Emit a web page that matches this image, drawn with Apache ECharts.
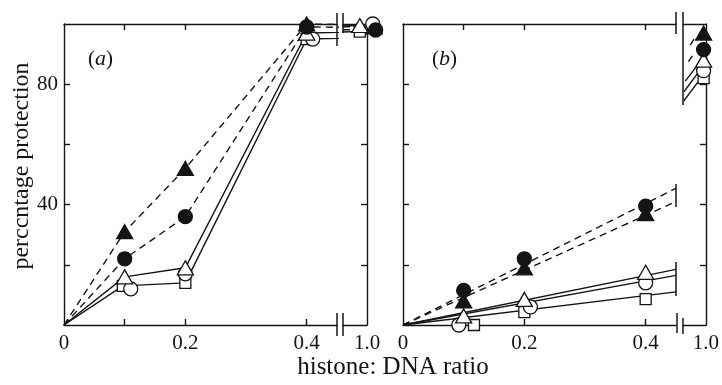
<!DOCTYPE html>
<html>
<head>
<meta charset="utf-8">
<script src="https://cdn.jsdelivr.net/npm/echarts@6/dist/echarts.min.js"></script>
<style>
  html, body { margin: 0; padding: 0; background: #fff; }
  #chart { width: 722px; height: 385px; }
</style>
</head>
<body>
<div id="chart"></div>
<script>
// panel (a): points at ratios 0, 0.1, 0.2, 0.4
const aX = [0, 0.1, 0.2, 0.4]
const aFilledTri = [0, 31, 52, 100]
const aFilledCircle = [0, 22, 36, 99]
const aOpenTri = [0, 16, 19, 97]
const aOpenSquareX = [0, 0.097, 0.2, 0.4]
const aOpenSquare = [0, 13, 14, 95]
const aOpenCircleX = [0.11, 0.2, 0.41]
const aOpenCircle = [12, 17, 95]
// panel (a) at ratio 1.0: filledTri, filledCircle, openTri, openSquare, openCircle
const aEndX = [1.015, 1.018, 0.985, 0.985, 1.012]
const aEndY = [99, 98, 99.5, 97.5, 100]

// panel (b)
const bX = [0.1, 0.2, 0.4]
const bFilledCircle = [11.5, 22, 39.5]
const bFilledTri = [8, 19, 37]
const bOpenTri = [3, 8.5, 17.5]
const bOpenCircleX = [0.092, 0.21, 0.4]
const bOpenCircle = [0, 6, 14]
const bOpenSquareX = [0.117, 0.2, 0.4]
const bOpenSquare = [0, 4.3, 8.6]
// fitted lines from the origin, value at the axis break (0.45)
const bFitEnd = 0.45
const bFitDashed = [45.4, 41]
const bFitSolid = [18.5, 16.5, 11]
// panel (b) at ratio 1.0: filledTri, filledCircle, openTri, openCircle, openSquare
const bEndX = 0.995
const bEndY = [97, 91.5, 88, 84.5, 82]
// short strokes running into the 1.0 points
const bStubSolid = [[[0.952, 74.5], [0.984, 81]], [[0.952, 77.5], [0.984, 84]], [[0.955, 81], [0.98, 86]]]
const bStubDashed = [[[0.962, 87.5], [0.975, 90.5]], [[0.966, 93], [0.976, 95.5]]]

const xTicks = [0.1, 0.2, 0.4]
const xLabels = [0, 0.2, 0.4]
const yTicks = [20, 40, 60, 80]
const yLabels = [40, 80]

const ink = '#141414'
const font = 'Liberation Serif'

const zip = (xs, ys) => xs.map((x, i) => [x, ys[i]])

const mainX = (gridIndex, position, labels) => ({
  type: 'value', gridIndex, position, min: 0, max: 0.45,
  axisLine: { show: true, lineStyle: { color: ink, width: 1.4 } },
  axisTick: { show: true, inside: true, length: 6, customValues: xTicks, lineStyle: { color: ink, width: 1.4 } },
  axisLabel: labels ? {
    show: true, customValues: xLabels, margin: 8, color: ink, fontFamily: font, fontSize: 21,
    formatter: v => (v === 0 ? '0' : String(v)),
  } : { show: false },
  splitLine: { show: false },
})

const sideX = (gridIndex, position, labels) => ({
  type: 'value', gridIndex, position, min: 0.95, max: 1.0,
  axisLine: { show: true, lineStyle: { color: ink, width: 1.4 } },
  axisTick: { show: false },
  axisLabel: labels ? {
    show: true, customValues: [1.0], margin: 8, color: ink, fontFamily: font, fontSize: 21,
    formatter: v => v.toFixed(1),
  } : { show: false },
  splitLine: { show: false },
})

const yAx = (gridIndex, position, labels) => ({
  type: 'value', gridIndex, position, min: 0, max: 100,
  axisLine: { show: true, lineStyle: { color: ink, width: 1.4 } },
  axisTick: { show: true, inside: true, length: 6, customValues: yTicks, lineStyle: { color: ink, width: 1.4 } },
  axisLabel: labels ? { show: true, customValues: yLabels, margin: 6, color: ink, fontFamily: font, fontSize: 21 } : { show: false },
  splitLine: { show: false },
})

const line = (xi, yi, data, dashed, clip = true) => ({
  type: 'line', xAxisIndex: xi, yAxisIndex: yi, data, clip,
  showSymbol: false, symbol: 'none', silent: true, z: 2,
  lineStyle: { color: ink, width: 1.4, type: dashed ? [7, 5] : 'solid' },
})

const pts = (xi, yi, data, shape, filled, z = 5) => {
  const size = shape === 'triangle' ? [16, 14] : shape === 'rect' ? 11 : 14
  return {
    type: 'scatter', xAxisIndex: xi, yAxisIndex: yi, data, clip: false, z,
    symbol: shape, symbolSize: size,
    itemStyle: { color: filled ? ink : '#fff', borderColor: ink, borderWidth: 1.3, opacity: 1 },
  }
}

// panel (a) series
const aLines = [
  { x: aX, y: aFilledTri, end: 0, dashed: true },
  { x: aX, y: aFilledCircle, end: 1, dashed: true },
  { x: aX, y: aOpenTri, end: 2, dashed: false },
  { x: aOpenSquareX, y: aOpenSquare, end: 3, dashed: false },
]
const aSeries = []
aLines.forEach(s => {
  const main = zip(s.x, s.y)
  const endPt = [aEndX[s.end], aEndY[s.end]]
  aSeries.push(line(0, 0, main.concat([endPt]), s.dashed))
  aSeries.push(line(2, 1, [main[main.length - 1], endPt], s.dashed))
})
aSeries.push(pts(0, 0, zip(aOpenSquareX.slice(1), aOpenSquare.slice(1)), 'rect', false, 5))
aSeries.push(pts(0, 0, zip(aOpenCircleX, aOpenCircle), 'circle', false, 6))
aSeries.push(pts(0, 0, zip(aX.slice(1), aOpenTri.slice(1)), 'triangle', false, 7))
aSeries.push(pts(0, 0, zip(aX.slice(1), aFilledCircle.slice(1)), 'circle', true, 8))
aSeries.push(pts(0, 0, zip(aX.slice(1), aFilledTri.slice(1)), 'triangle', true, 9))
aSeries.push(pts(2, 1, [[aEndX[0], aEndY[0]]], 'triangle', true, 5))
aSeries.push(pts(2, 1, [[aEndX[1], aEndY[1]]], 'circle', true, 6))
aSeries.push(pts(2, 1, [[aEndX[4], aEndY[4]]], 'circle', false, 5))
aSeries.push(pts(2, 1, [[aEndX[3], aEndY[3]]], 'rect', false, 7))
aSeries.push(pts(2, 1, [[aEndX[2], aEndY[2]]], 'triangle', false, 8))

// panel (b) series
const bSeries = []
bFitDashed.forEach(v => bSeries.push(line(4, 2, [[0, 0], [bFitEnd, v]], true)))
bFitSolid.forEach(v => bSeries.push(line(4, 2, [[0, 0], [bFitEnd, v]], false)))
bStubSolid.forEach(d => bSeries.push(line(6, 3, d, false)))
bStubDashed.forEach(d => bSeries.push(line(6, 3, d, true)))
bSeries.push(pts(4, 2, zip(bOpenSquareX, bOpenSquare), 'rect', false, 5))
bSeries.push(pts(4, 2, zip(bOpenCircleX, bOpenCircle), 'circle', false, 6))
bSeries.push(pts(4, 2, zip(bX, bOpenTri), 'triangle', false, 7))
bSeries.push(pts(4, 2, zip(bX, bFilledTri), 'triangle', true, 8))
bSeries.push(pts(4, 2, zip(bX, bFilledCircle), 'circle', true, 9))
bSeries.push(pts(6, 3, [[bEndX, bEndY[4]]], 'rect', false, 5))
bSeries.push(pts(6, 3, [[bEndX, bEndY[3]]], 'circle', false, 6))
bSeries.push(pts(6, 3, [[bEndX, bEndY[2]]], 'triangle', false, 7))
bSeries.push(pts(6, 3, [[bEndX, bEndY[1]]], 'circle', true, 8))
bSeries.push(pts(6, 3, [[bEndX, bEndY[0]]], 'triangle', true, 9))

const vbar = (x, y1, y2) => ({
  type: 'line', shape: { x1: x, y1, x2: x, y2 },
  style: { stroke: ink, lineWidth: 1.5 }, silent: true,
})

const panelLabel = (left, letter) => ({
  type: 'text', left, top: 48, silent: true,
  style: {
    text: '({i|' + letter + '})', fill: ink, font: '21px "Liberation Serif"',
    rich: { i: { fontStyle: 'italic', fontSize: 22, fontFamily: font, fill: ink } },
  },
})

const option = {
  animation: false,
  backgroundColor: '#fff',
  grid: [
    { left: 64, top: 24, width: 273, height: 301 },
    { left: 343, top: 24, width: 24, height: 301 },
    { left: 403, top: 24, width: 273, height: 301 },
    { left: 683, top: 24, width: 24, height: 301 },
  ],
  xAxis: [
    mainX(0, 'bottom', true), mainX(0, 'top', false),
    sideX(1, 'bottom', true), sideX(1, 'top', false),
    mainX(2, 'bottom', true), mainX(2, 'top', false),
    sideX(3, 'bottom', true), sideX(3, 'top', false),
  ],
  yAxis: [
    yAx(0, 'left', true),
    yAx(1, 'right', false),
    yAx(2, 'left', false),
    yAx(3, 'right', false),
  ],
  series: aSeries.concat(bSeries),
  graphic: [
    // axis breaks
    vbar(337, 13, 46), vbar(343, 13, 33),
    vbar(337, 313, 336), vbar(343, 313, 336),
    vbar(676, 12, 34), vbar(683, 12, 105),
    vbar(677, 313, 333), vbar(683, 318, 334),
    vbar(676, 184, 207), vbar(676, 262, 296),
    panelLabel(88, 'a'),
    panelLabel(432, 'b'),
    {
      type: 'text', x: 22, y: 166, rotation: Math.PI / 2, silent: true,
      style: {
        text: 'perccntage protection', fill: ink, font: '24px "Liberation Serif"',
        align: 'center', verticalAlign: 'middle',
      },
    },
    {
      type: 'text', x: 393, y: 367, silent: true,
      style: {
        text: 'histone: DNA ratio', fill: ink, font: '25px "Liberation Serif"',
        align: 'center', verticalAlign: 'middle',
      },
    },
  ],
}

const chart = echarts.init(document.getElementById('chart'), null, { renderer: 'canvas' })
chart.setOption(option)
</script>
</body>
</html>
